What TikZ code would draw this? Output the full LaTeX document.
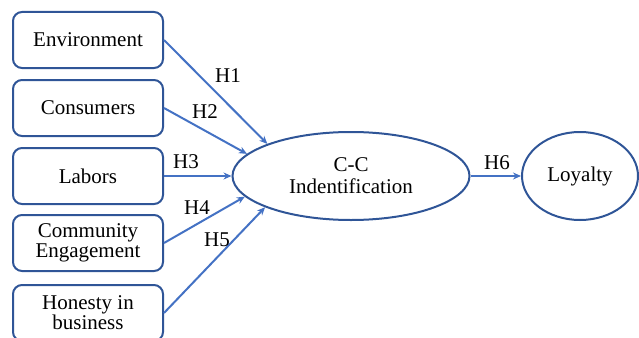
\documentclass[tikz,border=0pt]{standalone}
\usepackage{fontspec}
\setmainfont{Liberation Serif}
\usetikzlibrary{shapes,arrows.meta}
\definecolor{boxblue}{HTML}{2F5597}
\definecolor{arrowblue}{HTML}{4472C4}

\begin{document}
\begin{tikzpicture}[x=1pt,y=-1pt,
  box/.style={draw=boxblue,line width=2pt,rounded corners=9pt,minimum width=150pt,
    minimum height=56pt,align=center,font=\rmfamily\fontsize{21}{20}\selectfont},
  oval/.style={draw=boxblue,line width=2pt,ellipse,inner sep=0pt,align=center,
    font=\rmfamily\fontsize{21}{22}\selectfont},
  link/.style={draw=arrowblue,line width=2pt,-{Stealth[length=8pt,width=7pt]}},
  hyp/.style={font=\rmfamily\fontsize{21}{22}\selectfont}]
\useasboundingbox (0,0) rectangle (639,337);
\node[box] (env) at (88,40) {Environment};
\node[box] (con) at (88,108) {Consumers};
\node[box] (lab) at (88,176) {Labors};
\node[box] (com) at (88,243) {Community\\Engagement};
\node[box] (hon) at (88,313) {Honesty in\\business};
\node[oval,minimum width=237pt,minimum height=88pt] (cc) at (351,176) {C-C\\Indentification};
\node[oval,minimum width=116pt,minimum height=88pt] (loy) at (580,176) {Loyalty};
\draw[link] (env.east) -- (cc.159.7);
\draw[link] (con.east) -- (cc.168.8);
\draw[link] (lab.east) -- (cc.180);
\draw[link] (com.east) -- (cc.191.7);
\draw[link] (hon.east) -- (cc.200.3);
\draw[link] (cc.east) -- (loy.west);
\node[hyp] (h1) at (228,76) {H1};
\node[hyp] (h2) at (205,112) {H2};
\node[hyp] (h3) at (186,162) {H3};
\node[hyp] (h4) at (197,208) {H4};
\node[hyp] (h5) at (217,240) {H5};
\node[hyp] (h6) at (497,163) {H6};
\end{tikzpicture}
\end{document}
